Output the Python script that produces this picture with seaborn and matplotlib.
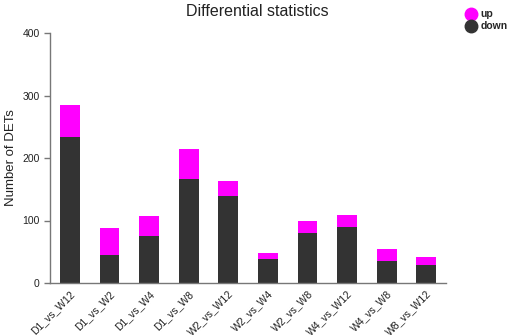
import matplotlib
matplotlib.use("Agg")
import matplotlib.pyplot as plt
import seaborn as sns
import pandas as pd
from matplotlib.lines import Line2D

categories = ["D1_vs_W12", "D1_vs_W2", "D1_vs_W4", "D1_vs_W8", "W2_vs_W12",
              "W2_vs_W4", "W2_vs_W8", "W4_vs_W12", "W4_vs_W8", "W8_vs_W12"]
down = [234, 45, 75, 166, 139, 38, 80, 89, 35, 29]
up = [51, 43, 32, 48, 25, 9.5, 19, 20, 19, 12]

sns.set_style("white")
plt.rcParams['font.family'] = ['Liberation Sans', 'DejaVu Sans']

df = pd.DataFrame({"cat": categories, "down": down, "up": up})
df["total"] = df["down"] + df["up"]

fig = plt.figure(figsize=(5.12, 3.36), dpi=100)
ax = fig.add_axes([50/512, 53/336, 396/512, 250/336])

sns.barplot(data=df, x="cat", y="total", color="#FF00FF", width=0.5,
            saturation=1, ax=ax, edgecolor="none")
sns.barplot(data=df, x="cat", y="down", color="#333333", width=0.5,
            saturation=1, ax=ax, edgecolor="none")

ax.set_xlim(-0.5, len(categories) - 0.5)
ax.set_ylim(0, 400)
ax.set_yticks([0, 100, 200, 300, 400])
ax.set_xticks(range(len(categories)))
ax.set_xticklabels(categories, rotation=45, ha="right", rotation_mode="anchor",
                   fontsize=7.5, color="#222222")
ax.set_xticks([i - 0.5 for i in range(len(categories) + 1)], minor=True)
ax.tick_params(axis="x", which="major", length=0, pad=4)
ax.tick_params(axis="x", which="minor", length=4, width=1, color="#777777", direction="out")
ax.tick_params(axis="y", length=4, width=1, color="#777777", direction="out",
               labelsize=7.5, labelcolor="#222222", left=True)
for s in ["top", "right"]:
    ax.spines[s].set_visible(False)
for s in ["left", "bottom"]:
    ax.spines[s].set_color("#777777")
    ax.spines[s].set_linewidth(1)
ax.set_xlabel("")
ax.set_ylabel("Number of DETs", fontsize=9.5, color="#222222")
fig.text(257/512, 1 - 11/336, "Differential statistics", ha="center", va="center",
         fontsize=11.5, color="#222222")

handles = [Line2D([], [], marker="o", linestyle="none", markersize=9,
                  markerfacecolor="#FF00FF", markeredgecolor="#FF00FF"),
           Line2D([], [], marker="o", linestyle="none", markersize=9,
                  markerfacecolor="#333333", markeredgecolor="#333333")]
leg = fig.legend(handles, ["up", "down"], loc="upper left",
                 bbox_to_anchor=(461/512, 1 - 4/336), frameon=False,
                 handletextpad=0.4, labelspacing=0.2, borderpad=0,
                 handlelength=1.0, prop={"weight": "bold", "size": 7.5})
fig.savefig("out.png", dpi=100)
